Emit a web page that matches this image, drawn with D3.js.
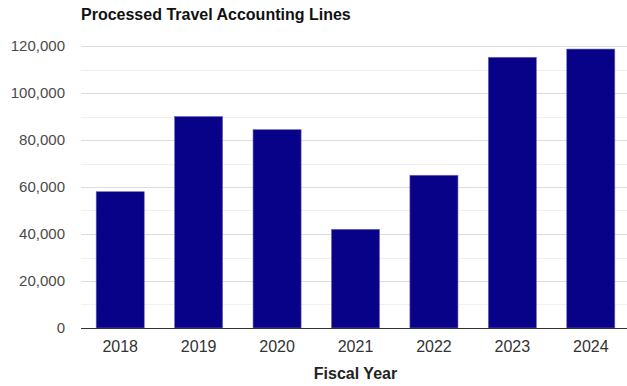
<!DOCTYPE html>
<html>
<head>
<meta charset="utf-8">
<script src="https://cdn.jsdelivr.net/npm/d3@7"></script>
<style>
  html, body { margin: 0; padding: 0; background: #fff; }
  svg { display: block; font-family: "Liberation Sans", Arial, sans-serif; }
</style>
</head>
<body>
<svg id="chart" width="627" height="386"></svg>
<script>
// Processed travel accounting lines per fiscal year
const years = ["2018", "2019", "2020", "2021", "2022", "2023", "2024"];
const lines = [58000, 90000, 84400, 42000, 65000, 115200, 118700];
const yTicks = [0, 20000, 40000, 60000, 80000, 100000, 120000];
const yMinor = [10000, 30000, 50000, 70000, 90000, 110000];

const svg = d3.select("#chart");
const plot = { left: 81, right: 630, top: 46, bottom: 328 };

const x = d3.scaleBand()
  .domain(years)
  .range([plot.left, plot.right])
  .paddingInner(0.387)
  .paddingOuter(0.1935);

const y = d3.scaleLinear()
  .domain([0, 120000])
  .range([plot.bottom, plot.top]);

// minor gridlines
svg.append("g").selectAll("line").data(yMinor).join("line")
  .attr("x1", plot.left).attr("x2", plot.right)
  .attr("y1", d => Math.round(y(d)) + 0.5).attr("y2", d => Math.round(y(d)) + 0.5)
  .attr("stroke", "#f0f0f0").attr("stroke-width", 1);

// major gridlines
svg.append("g").selectAll("line").data(yTicks.filter(d => d > 0)).join("line")
  .attr("x1", plot.left).attr("x2", plot.right)
  .attr("y1", d => Math.round(y(d)) + 0.5).attr("y2", d => Math.round(y(d)) + 0.5)
  .attr("stroke", "#dcdcdc").attr("stroke-width", 1);

// y axis labels
const yAxis = d3.axisLeft(y).tickValues(yTicks).tickFormat(d3.format(",")).tickSize(0).tickPadding(0);
const gy = svg.append("g").attr("transform", "translate(65,0)").call(yAxis);
gy.select(".domain").remove();
gy.selectAll("text")
  .attr("fill", "#4a4a4a").attr("font-size", "15px")
  .attr("font-family", "Liberation Sans, Arial, sans-serif");

// bars
svg.append("g").selectAll("rect").data(years).join("rect")
  .attr("x", d => x(d))
  .attr("width", x.bandwidth())
  .attr("y", (d, i) => y(lines[i]))
  .attr("height", (d, i) => y(0) - y(lines[i]))
  .attr("fill", "#080289")
  .attr("stroke", "#6d6bc0")
  .attr("stroke-width", 0.6);

// baseline
svg.append("line")
  .attr("x1", plot.left).attr("x2", plot.right)
  .attr("y1", plot.bottom + 0.5).attr("y2", plot.bottom + 0.5)
  .attr("stroke", "#333").attr("stroke-width", 1);

// x axis labels
const xAxis = d3.axisBottom(x).tickSize(0).tickPadding(0);
const gx = svg.append("g").attr("transform", `translate(0,${plot.bottom + 13})`).call(xAxis);
gx.select(".domain").remove();
gx.selectAll("text")
  .attr("fill", "#333").attr("font-size", "16px")
  .attr("font-family", "Liberation Sans, Arial, sans-serif");

// title
svg.append("text")
  .attr("x", 81).attr("y", 20)
  .attr("font-size", "16px").attr("font-weight", "bold").attr("fill", "#111")
  .text("Processed Travel Accounting Lines");

// x axis title
svg.append("text")
  .attr("x", (plot.left + plot.right) / 2).attr("y", 379)
  .attr("text-anchor", "middle")
  .attr("font-size", "16px").attr("font-weight", "bold").attr("fill", "#222")
  .text("Fiscal Year");
</script>
</body>
</html>
